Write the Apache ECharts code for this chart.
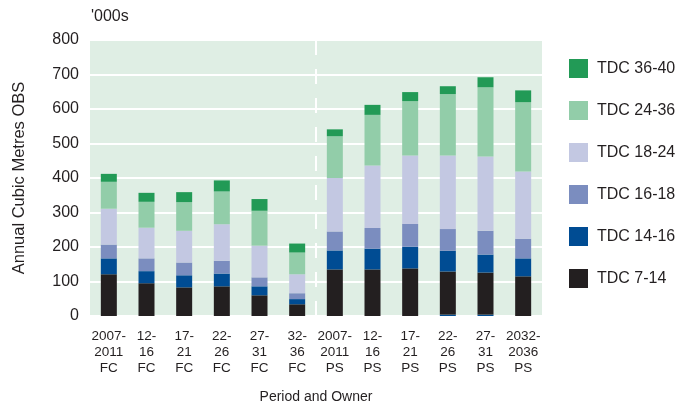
<!DOCTYPE html>
<html>
<head>
<meta charset="utf-8">
<script src="https://cdn.jsdelivr.net/npm/echarts@6/dist/echarts.min.js"></script>
<style>
    html, body { margin: 0; padding: 0; background: #fff; }
    #bar { width: 695px; height: 409px; }
</style>
</head>
<body>
<div id="bar"></div>
<script>
// data ('000 m3)
const categories = [
    '2007-\n2011\nFC', '12-\n16\nFC', '17-\n21\nFC', '22-\n26\nFC', '27-\n31\nFC', '32-\n36\nFC',
    '2007-\n2011\nPS', '12-\n16\nPS', '17-\n21\nPS', '22-\n26\nPS', '27-\n31\nPS', '2032-\n2036\nPS'
]
const yTicks = [0, 100, 200, 300, 400, 500, 600, 700, 800]

// tiny sliver of 14-16 under the black segment on two PS bars
const tdc14_16_base = [0, 0, 0, 0, 0, 0, 0, 0, 0, 4, 4, 0]
const tdc7_14 = [121, 95, 83, 86, 60, 34, 135, 135, 138, 125, 122, 115]
const tdc14_16 = [46, 35, 35, 37, 26, 15, 55, 60, 63, 60, 52, 52]
const tdc16_18 = [40, 37, 37, 37, 26, 17, 55, 60, 66, 63, 69, 57]
const tdc18_24 = [104, 89, 92, 106, 92, 55, 155, 181, 198, 213, 215, 195]
const tdc24_36 = [78, 75, 83, 95, 101, 63, 121, 147, 158, 178, 201, 201]
const tdc36_40 = [23, 26, 29, 32, 34, 26, 20, 29, 26, 23, 29, 34]

const legendOrder = ['TDC 36-40', 'TDC 24-36', 'TDC 18-24', 'TDC 16-18', 'TDC 14-16', 'TDC 7-14']
// separator sits half way between the last FC and first PS category
const groupSplit = 5.5

function init() {
    var myChart = echarts.init(document.getElementById('bar'));

    const font = "'Liberation Sans', Arial, sans-serif"
    const textColor = '#231f20'

    function bar(name, color, data) {
        return {
            name: name,
            type: 'bar',
            stack: 'total',
            barWidth: 16,
            itemStyle: { color: color },
            emphasis: { disabled: true },
            data: data
        }
    }

    const series = [
        bar('TDC 14-16', '#004c93', tdc14_16_base),
        bar('TDC 7-14', '#231f20', tdc7_14),
        bar('TDC 14-16', '#004c93', tdc14_16),
        bar('TDC 16-18', '#7b8dbf', tdc16_18),
        bar('TDC 18-24', '#c3c8e2', tdc18_24),
        bar('TDC 24-36', '#92cda9', tdc24_36),
        bar('TDC 36-40', '#229a56', tdc36_40),
        {
            // empty helper series on a hidden value axis, only carries the dashed separator
            name: 'separator',
            type: 'line',
            xAxisIndex: 1,
            data: [],
            markLine: {
                silent: true,
                symbol: 'none',
                label: { show: false },
                lineStyle: { color: '#fff', width: 2, type: [15, 14] },
                data: [{ xAxis: groupSplit }]
            }
        }
    ]

    const option = {
        backgroundColor: '#fff',
        animation: false,
        textStyle: { fontFamily: font, color: textColor },
        title: {
            text: "'000s",
            left: 91,
            top: 9,
            padding: 0,
            textStyle: { fontFamily: font, fontSize: 16, fontWeight: 'normal', color: textColor }
        },
        legend: {
            orient: 'vertical',
            left: 564,
            top: 54,
            icon: 'rect',
            itemWidth: 19,
            itemHeight: 19,
            itemGap: 23,
            data: legendOrder,
            textStyle: { fontFamily: font, fontSize: 16, color: textColor, padding: [0, 0, 0, 4] }
        },
        grid: {
            left: 90,
            right: 153,
            top: 40,
            bottom: 90,
            show: true,
            backgroundColor: '#dfeee4',
            borderWidth: 0
        },
        xAxis: [
            {
                type: 'category',
                data: categories,
                name: 'Period and Owner',
                nameLocation: 'middle',
                nameGap: 74,
                nameTextStyle: { fontFamily: font, fontSize: 14, color: textColor },
                axisLine: { show: false },
                axisTick: { show: false },
                axisLabel: {
                    interval: 0,
                    fontFamily: font,
                    fontSize: 13.5,
                    lineHeight: 16,
                    margin: 12,
                    color: textColor
                },
                splitLine: { show: false }
            },
            {
                type: 'value',
                min: -0.5,
                max: categories.length - 0.5,
                show: false
            }
        ],
        yAxis: {
            type: 'value',
            min: yTicks[0],
            max: yTicks[yTicks.length - 1],
            interval: 100,
            name: 'Annual Cubic Metres OBS',
            nameLocation: 'middle',
            nameGap: 62,
            nameTextStyle: { fontFamily: font, fontSize: 16.5, color: textColor },
            axisLine: { show: false },
            axisTick: { show: false },
            axisLabel: { fontFamily: font, fontSize: 16, margin: 11, color: textColor },
            splitLine: { lineStyle: { color: '#fff', width: 2 } }
        },
        series: series
    }

    option && myChart.setOption(option);
}

init()
</script>
</body>
</html>
